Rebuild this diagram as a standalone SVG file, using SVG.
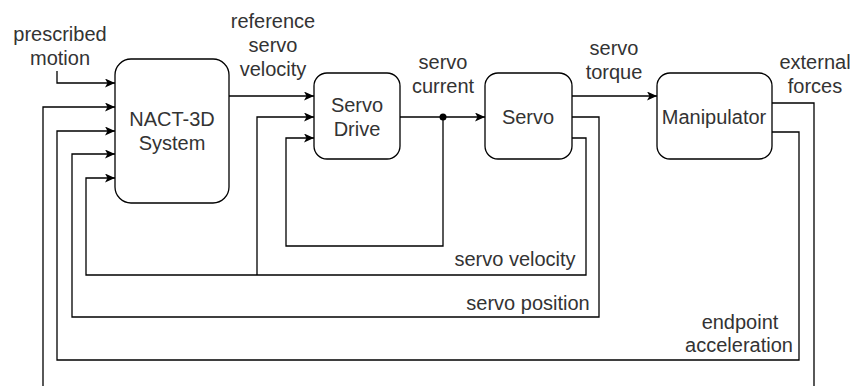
<svg xmlns="http://www.w3.org/2000/svg" width="852" height="386" viewBox="0 0 852 386">
<style>
.box{fill:#fff;stroke:#000;stroke-width:1.3}
.ln{fill:none;stroke:#000;stroke-width:1.3}
.arr{marker-end:url(#ah)}
text{font-family:"Liberation Sans",Arial,sans-serif;font-size:20px;fill:#333;text-anchor:middle}
</style>
<defs>
<marker id="ah" markerUnits="userSpaceOnUse" markerWidth="11" markerHeight="10" refX="10" refY="4.5" orient="auto">
<path d="M0,0 L10,4.5 L0,9 L2.5,4.5 Z" fill="#000"/>
</marker>
</defs>
<g id="connectors">
<path class="ln arr" d="M57,71 V83 H115"/>
<path class="ln arr" d="M229,96 H314"/>
<path class="ln arr" d="M400,117 H485"/>
<circle cx="443" cy="117" r="3.5" fill="#000"/>
<path class="ln arr" d="M443,117 V246 H286 V138 H314"/>
<path class="ln arr" d="M572,96 H657"/>
<path class="ln arr" d="M572,138 H586 V275 H86 V178 H115"/>
<path class="ln arr" d="M257,275 V117 H314"/>
<path class="ln arr" d="M572,117 H599 V317 H72 V154 H115"/>
<path class="ln arr" d="M772,132 H799 V360 H57 V131 H115"/>
<path class="ln arr" d="M43,390 V107 H115"/>
<path class="ln" d="M772,103 H814 V390"/>
</g>
<g id="labels">
<text x="60" y="41">prescribed</text>
<text x="60" y="65">motion</text>
<text x="273" y="28">reference</text>
<text x="273" y="52">servo</text>
<text x="273" y="76">velocity</text>
<text x="443" y="69">servo</text>
<text x="443" y="93">current</text>
<text x="614" y="55">servo</text>
<text x="614" y="79">torque</text>
<text x="815" y="69">external</text>
<text x="815" y="93">forces</text>
<text x="515" y="266">servo velocity</text>
<text x="528" y="310">servo position</text>
<text x="740" y="329">endpoint</text>
<text x="739" y="352">acceleration</text>
</g>
<g id="nact">
<rect class="box" x="115" y="59" width="114" height="144" rx="16"/>
<text x="172" y="126">NACT-3D</text>
<text x="172" y="150">System</text>
</g>
<g id="servo-drive">
<rect class="box" x="314" y="73" width="86" height="86" rx="13"/>
<text x="357" y="112">Servo</text>
<text x="357" y="136">Drive</text>
</g>
<g id="servo">
<rect class="box" x="485" y="73" width="87" height="86" rx="13"/>
<text x="528" y="124">Servo</text>
</g>
<g id="manipulator">
<rect class="box" x="657" y="73" width="115" height="86" rx="13"/>
<text x="714" y="124">Manipulator</text>
</g>
</svg>
